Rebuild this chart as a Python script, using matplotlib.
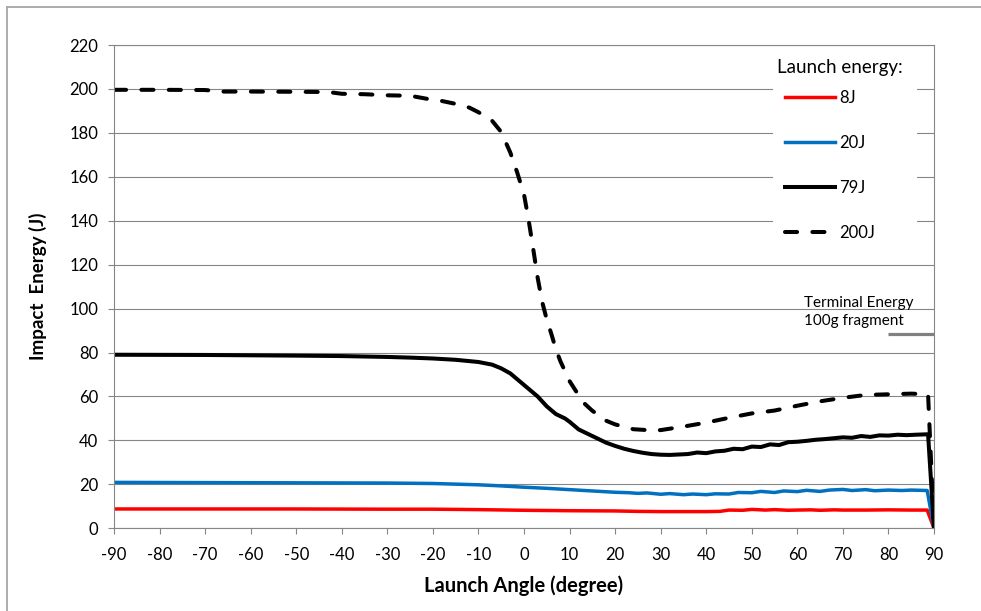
import matplotlib
matplotlib.use("Agg")
import matplotlib.pyplot as plt
from matplotlib.lines import Line2D
from matplotlib.patches import Rectangle

# Launch angle (degree) / impact energy (J)
ang_8 = [-90, -70, -50, -30, -20, -10, 0, 10, 20, 25, 30, 35, 40, 43, 45, 48, 50, 53,
         55, 58, 60, 63, 65, 68, 70, 75, 80, 85, 88.5, 90]
e_8 = [8.8, 8.8, 8.8, 8.7, 8.7, 8.5, 8.2, 8.0, 7.9, 7.7, 7.6, 7.6, 7.6, 7.7, 8.3, 8.2, 8.6, 8.3,
       8.5, 8.2, 8.3, 8.4, 8.2, 8.4, 8.3, 8.3, 8.4, 8.3, 8.3, 0]

ang_20 = [-90, -70, -50, -30, -20, -10, -5, 0, 5, 10, 15, 20, 23, 25, 27, 30, 32, 35, 37, 40,
          42, 45, 47, 50, 52, 55, 57, 60, 62, 65, 67, 70, 72, 75, 77, 80, 83, 85, 88.5, 90]
e_20 = [20.9, 20.8, 20.7, 20.6, 20.4, 19.8, 19.3, 18.7, 18.2, 17.6, 17.0, 16.4, 16.2, 15.9,
        16.1, 15.5, 15.8, 15.3, 15.6, 15.3, 15.7, 15.6, 16.3, 16.2, 16.8, 16.3, 17.0, 16.7,
        17.3, 16.8, 17.4, 17.7, 17.2, 17.6, 17.1, 17.4, 17.2, 17.4, 17.2, 0]

ang_79 = [-90, -70, -50, -40, -30, -25, -20, -15, -10, -7, -5, -3, -1, 1, 3, 5, 7, 9, 10, 12,
          14, 16, 18, 20, 22, 24, 26, 28, 30, 32, 34, 36, 38, 40, 42, 44, 46, 48, 50, 52, 54,
          56, 58, 60, 62, 64, 66, 68, 70, 72, 74, 76, 78, 80, 82, 84, 86, 88.7, 90]
e_79 = [79.0, 78.9, 78.6, 78.4, 78.0, 77.7, 77.3, 76.7, 75.7, 74.5, 72.8, 70.5, 67.0, 63.5,
        60.0, 55.5, 52.0, 50.0, 48.5, 45.0, 43.0, 41.0, 39.0, 37.5, 36.2, 35.2, 34.4, 33.8,
        33.5, 33.4, 33.6, 33.8, 34.5, 34.2, 35.0, 35.3, 36.2, 36.0, 37.2, 37.0, 38.2, 37.9,
        39.2, 39.4, 39.8, 40.3, 40.6, 41.0, 41.4, 41.2, 42.0, 41.6, 42.3, 42.2, 42.6, 42.4,
        42.6, 42.8, 0]

ang_200 = [-90, -80, -70, -66, -60, -50, -43, -40, -35, -30, -25, -21, -18, -15, -12, -10, -7,
           -5, -3, -1.5, 0, 1, 2, 3, 4, 5, 6, 7, 8, 10, 13, 15, 18, 20, 24, 28, 30, 35, 40, 45,
           50, 55, 60, 65, 70, 75, 80, 85, 88.7, 90]
e_200 = [199.6, 199.6, 199.5, 198.8, 198.8, 198.7, 198.6, 197.8, 197.6, 197.1, 196.9, 195.4,
         194.5, 193.2, 191.5, 189.4, 185.5, 180.4, 171, 162, 152, 140.5, 127.5, 114, 103, 95,
         88.5, 81.5, 76, 67, 57.3, 53.5, 49, 47.3, 45.1, 44.6, 44.7, 46.3, 48.1, 50.3, 52.3,
         53.6, 55.8, 57.8, 59.4, 60.7, 61.0, 61.3, 61.0, 0]

terminal_energy = 88.4
terminal_span = [80, 90]

plt.rcParams['font.family'] = ['Lato', 'DejaVu Sans']
plt.rcParams['axes.unicode_minus'] = False

W, H = 981, 611
fig = plt.figure(figsize=(W / 100, H / 100), dpi=100)
ax = fig.add_axes([114 / W, 1 - 528.3 / H, (934 - 114) / W, (528.3 - 45) / H])

grey = '#868686'
ax.plot(ang_8, e_8, color='#FF0000', lw=2.5, label='8J', solid_joinstyle='round')
ax.plot(ang_20, e_20, color='#0070C0', lw=2.5, label='20J', solid_joinstyle='round')
ax.plot(ang_79, e_79, color='black', lw=2.9, label='79J', solid_joinstyle='round')
ax.plot(ang_200, e_200, color='black', lw=2.9, label='200J',
        linestyle=(0, (3.0, 3.8)), dash_capstyle='round')
ax.hlines(terminal_energy, terminal_span[0], terminal_span[1], color='#808080', lw=2.3)
ax.text(61.5, 98.6, 'Terminal Energy\n100g fragment', fontsize=11, ha='left',
        va='center', linespacing=1.35)

ax.set_xlim(-90, 90)
ax.set_ylim(0, 220)
ax.set_xticks(range(-90, 91, 10))
ax.set_yticks(range(0, 221, 20))
ax.yaxis.grid(True, color=grey, lw=0.8)
ax.set_axisbelow(True)
for s in ax.spines.values():
    s.set_color(grey)
    s.set_linewidth(0.8)
ax.tick_params(direction='out', length=4.3, width=0.8, color=grey, labelsize=12,
               labelcolor='black')
ax.tick_params(axis='y', pad=7)
ax.tick_params(axis='x', pad=9)

ax.set_xlabel('Launch Angle (degree)', fontsize=14.5, fontweight='bold', labelpad=9)
ax.set_ylabel('Impact  Energy (J)', fontsize=13.5, fontweight='bold', labelpad=16)

# legend area: white box hiding the gridlines, title, entries
ax.add_patch(Rectangle((773 / W, 1 - 250 / H), (917 - 773) / W, (250 - 52) / H,
                       transform=fig.transFigure, facecolor='white', edgecolor='none',
                       zorder=1))
fig.text(777 / W, 1 - 68 / H, 'Launch energy:', fontsize=13.5, ha='left', va='center',
         zorder=5)
leg = ax.legend(loc='upper left', bbox_to_anchor=(783 / W, 1 - 88.5 / H),
                bbox_transform=fig.transFigure, frameon=False, fontsize=12,
                handlelength=3.0, handletextpad=0.25, labelspacing=1.73,
                borderpad=0.1, borderaxespad=0)

# outer chart border (only left and top edges are visible)
fig.add_artist(Line2D([7 / W, 7 / W], [0, 1 - 7 / H], transform=fig.transFigure,
                      color='#A6A6A6', lw=1.3))
fig.add_artist(Line2D([7 / W, 1], [1 - 7 / H, 1 - 7 / H], transform=fig.transFigure,
                      color='#A6A6A6', lw=1.3))

fig.savefig('out.png', dpi=100)
